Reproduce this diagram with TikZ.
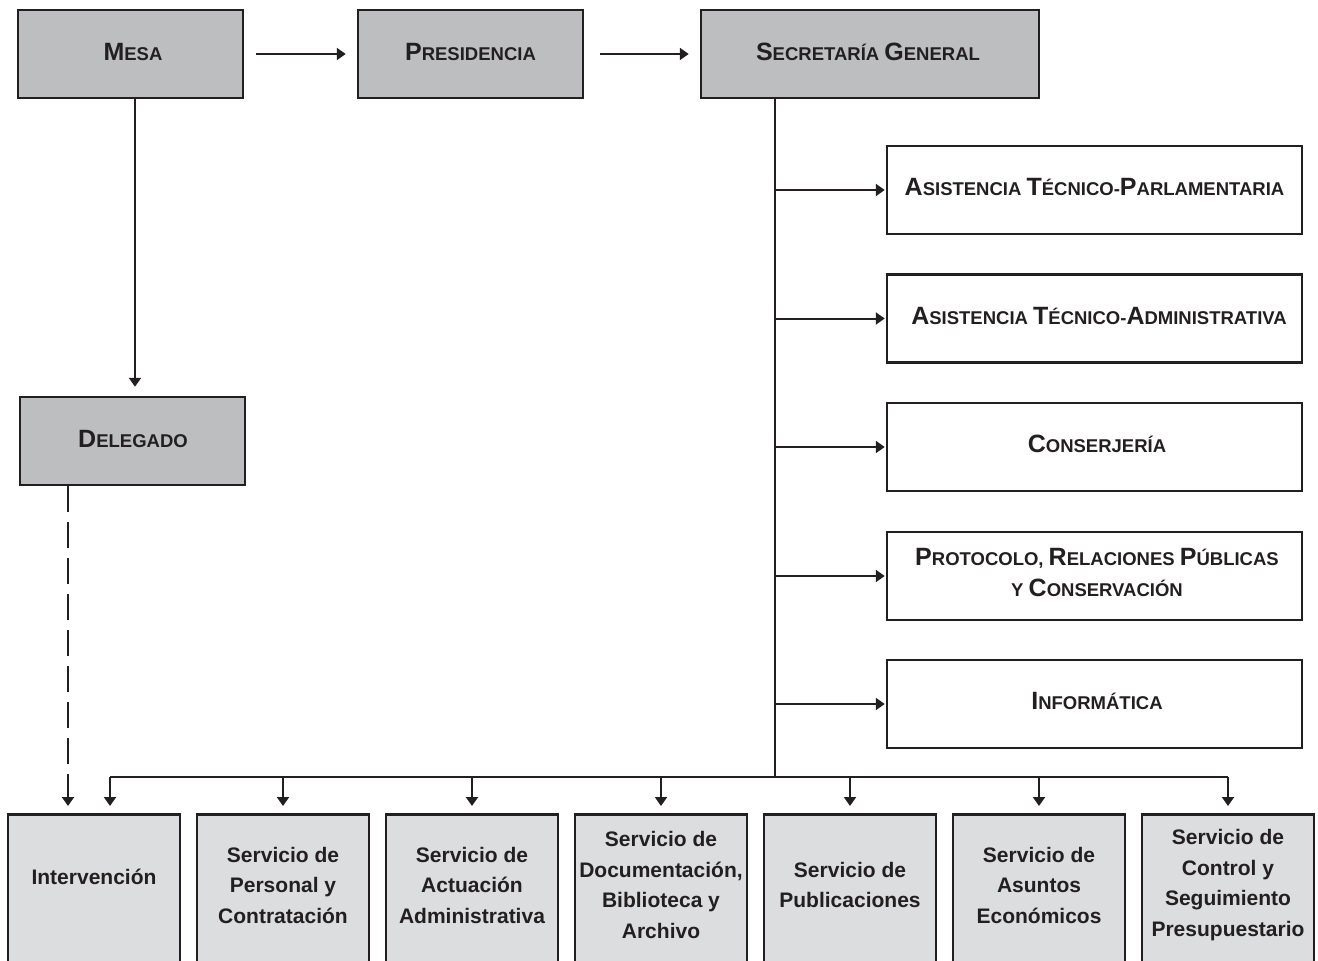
\documentclass[tikz,border=0pt]{standalone}
\usepackage{fontspec}
\setmainfont{Liberation Sans}
\usetikzlibrary{arrows.meta,calc}
\definecolor{ink}{HTML}{231F20}
\definecolor{topgray}{HTML}{BCBEC0}
\definecolor{lowgray}{HTML}{DCDDDE}
\newcommand{\BigL}[1]{{\fontsize{25}{30}\selectfont #1}}
\tikzset{
  topbox/.style={draw=ink, line width=2.5pt, fill=topgray, minimum width=225pt, minimum height=88pt, inner sep=0pt},
  toptext/.style={text=ink, font=\fontsize{18.5}{30}\selectfont\bfseries, inner sep=0pt},
  sidebox/.style={draw=ink, line width=2.5pt, fill=white, minimum width=415pt, minimum height=88pt, inner sep=0pt},
  sidetext/.style={text=ink, font=\fontsize{18.5}{31}\selectfont\bfseries, align=center, inner sep=0pt},
  lowbox/.style={draw=ink, line width=2.5pt, fill=lowgray, minimum width=172pt, minimum height=200pt, inner sep=0pt, anchor=north},
  lowtext/.style={text=ink, font=\fontsize{21}{30.5}\selectfont\bfseries, align=center, inner sep=0pt},
  arr/.style={draw=ink, line width=2pt, -{Triangle[length=9pt,width=12pt]}},
  bus/.style={draw=ink, line width=2pt},
}
\begin{document}
\begin{tikzpicture}[x=1pt,y=-1pt]
\useasboundingbox (0,0) rectangle (1318,961);
\clip (0,0) rectangle (1318,961);
\fill[white] (0,0) rectangle (1318,961);

% top row
\node[topbox] (mesa) at (130.5,54) {};
\node[topbox] (pres) at (470.5,54) {};
\node[topbox, minimum width=338pt] (sg) at (870,54) {};
\node[topbox] (del) at (132.5,441) {};
\node[toptext] (mesat) at (133,52) {\BigL{M}ESA};
\node[toptext] (prest) at (470.5,52) {\BigL{P}RESIDENCIA};
\node[toptext] (sgt) at (868,52) {\BigL{S}ECRETARÍA \BigL{G}ENERAL};
\node[toptext] (delt) at (133,439) {\BigL{D}ELEGADO};

% right column
\node[sidebox] (r1) at (1094.5,190) {};
\node[sidebox] (r2) at (1094.5,318.5) {};
\node[sidebox] (r3) at (1094.5,447) {};
\node[sidebox] (r4) at (1094.5,576) {};
\node[sidebox] (r5) at (1094.5,704) {};
\node[sidetext] (rt1) at (1094.5,187) {\BigL{A}SISTENCIA \BigL{T}ÉCNICO-\BigL{P}ARLAMENTARIA};
\node[sidetext] (rt2) at (1099,315.5) {\BigL{A}SISTENCIA \BigL{T}ÉCNICO-\BigL{A}DMINISTRATIVA};
\node[sidetext] (rt3) at (1097,444) {\BigL{C}ONSERJERÍA};
\node[sidetext] (rt4) at (1097,573) {\BigL{P}ROTOCOLO, \BigL{R}ELACIONES \BigL{P}ÚBLICAS\\Y \BigL{C}ONSERVACIÓN};
\node[sidetext] (rt5) at (1097,701) {\BigL{I}NFORMÁTICA};

% bottom row
\node[lowbox] (b1) at (94,813) {};
\node[lowbox] (b2) at (283,813) {};
\node[lowbox] (b3) at (472,813) {};
\node[lowbox] (b4) at (661,813) {};
\node[lowbox] (b5) at (850,813) {};
\node[lowbox] (b6) at (1039,813) {};
\node[lowbox] (b7) at (1228,813) {};
\node[lowtext] (t1) at (94,877) {Intervención};
\node[lowtext] (t2) at (283,885) {Servicio de\\Personal y\\Contratación};
\node[lowtext] (t3) at (472,885) {Servicio de\\Actuación\\Administrativa};
\node[lowtext] (t4) at (661,885) {Servicio de\\Documentación,\\Biblioteca y\\Archivo};
\node[lowtext] (t5) at (850,885) {Servicio de\\Publicaciones};
\node[lowtext] (t6) at (1039,885) {Servicio de\\Asuntos\\Económicos};
\node[lowtext] (t7) at (1228,885) {Servicio de\\Control y\\Seguimiento\\Presupuestario};

% helper coordinates
\coordinate (mx) at (135,0);
\coordinate (dx) at (68,0);
\coordinate (sx) at (775,777);
\coordinate (bl) at (110,777);
\coordinate (br) at (1228,777);

% top arrows
\draw[arr, shorten <=12pt, shorten >=11pt] (mesa.east) -- (pres.west);
\draw[arr, shorten <=16pt, shorten >=11pt] (pres.east) -- (sg.west);
\draw[arr, shorten >=9pt] (mesa.south -| mx) -- (del.north -| mx);
\draw[arr, dash pattern=on 26pt off 10pt, shorten >=7pt] (del.south -| dx) -- (b1.north -| dx);

% secretaria trunk
\draw[bus] (sg.south -| sx) -- (sx);
\foreach \r in {r1,r2,r3,r4,r5}{
  \draw[arr, shorten >=1pt] (\r.west -| sx) -- (\r.west);
}
% bus
\draw[bus] (bl) -- (br);
\draw[arr, shorten >=7pt] (bl) -- (b1.north -| bl);
\foreach \b in {b2,b3,b4,b5,b6,b7}{
  \draw[arr, shorten >=7pt] (\b.north |- bl) -- (\b.north);
}
\end{tikzpicture}
\end{document}
